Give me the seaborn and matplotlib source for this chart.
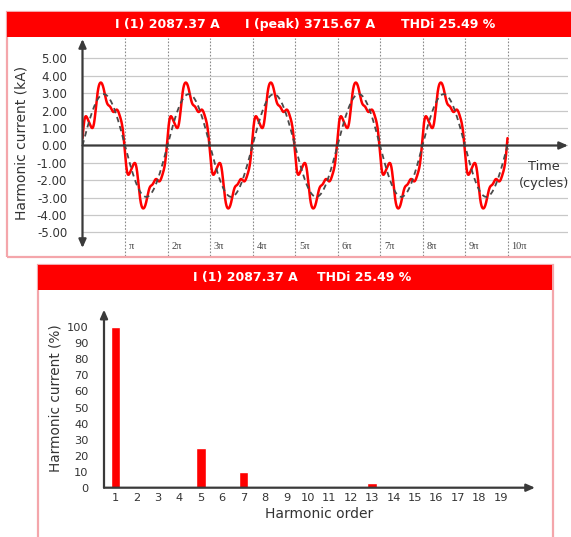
import numpy as np
import pandas as pd
import matplotlib
matplotlib.use("Agg")
import matplotlib.pyplot as plt
import matplotlib.transforms as mtransforms
from matplotlib.patches import Rectangle
from matplotlib.ticker import MultipleLocator, FixedLocator
import seaborn as sns

# ---- measured values -------------------------------------------------------
i1_rms_a = 2087.37          # fundamental RMS current (A)
i_peak_a = 3715.67          # peak current (A)
thdi_pct = 25.49            # total harmonic distortion of current (%)

harmonic_orders = list(range(1, 20))
harmonic_pct = [100, 0, 0.3, 0, 25, 0, 9.8, 0, 0.3, 0,
                1.2, 0, 2.7, 0, 0.2, 0, 0.1, 0, 0.1]
harmonic_phase_deg = [0, 0, 0, 0, 45, 0, -20, 0, 0, 0,
                      0, 0, 0, 0, 0, 0, 0, 0, 0]

n_cycles = 5
kA_ticks = [-5, -4, -3, -2, -1, 0, 1, 2, 3, 4, 5]
pi_multiples = [1, 2, 3, 4, 5, 6, 7, 8, 9, 10]
pi_labels = ["π", "2π", "3π", "4π", "5π", "6π", "7π", "8π", "9π", "10π"]
pct_ticks = [0, 10, 20, 30, 40, 50, 60, 70, 80, 90, 100]

# ---- waveform synthesised from the harmonic spectrum -----------------------
theta = np.linspace(0, 2 * np.pi * n_cycles, 4000)
amp1_ka = i1_rms_a * np.sqrt(2) / 1000.0
wave = np.zeros_like(theta)
for h, pct, ph in zip(harmonic_orders, harmonic_pct, harmonic_phase_deg):
    wave += amp1_ka * pct / 100.0 * np.sin(h * theta + np.deg2rad(ph))
fundamental = amp1_ka * np.sin(theta)

wave_df = pd.DataFrame({"theta": theta, "total": wave, "fund": fundamental})
spec_df = pd.DataFrame({"order": harmonic_orders, "pct": harmonic_pct})

# ---- figure ----------------------------------------------------------------
sns.set_style("white")
plt.rcParams["font.family"] = ["DejaVu Sans"]

W, H = 571, 537
fig = plt.figure(figsize=(W / 100, H / 100), dpi=100)
fig.patch.set_facecolor("white")

RED = "#ff0000"
PINK = "#f4a6ab"
AX_COL = "#3a3a3a"
TXT = "#333333"


def box(l, t, r, b):
    return [l / W, 1 - b / H, (r - l) / W, (b - t) / H]


def fx(x):
    return x / W


def fy(y):
    return 1 - y / H


# panel frames and red header bars
fig.patches.append(Rectangle((fx(7), fy(257)), (580 - 7) / W, (257 - 12) / H,
                             transform=fig.transFigure, fill=False,
                             ec=PINK, lw=1.6, zorder=0))
fig.patches.append(Rectangle((fx(7), fy(37)), (575 - 7) / W, 25 / H,
                             transform=fig.transFigure, fc=RED, ec="none", zorder=1))
fig.patches.append(Rectangle((fx(38), fy(545)), (553 - 38) / W, (545 - 265) / H,
                             transform=fig.transFigure, fill=False,
                             ec=PINK, lw=1.6, zorder=0))
fig.patches.append(Rectangle((fx(38), fy(290)), (552 - 38) / W, 25 / H,
                             transform=fig.transFigure, fc=RED, ec="none", zorder=1))

hdr = dict(color="white", fontsize=9, fontweight="bold", va="center", ha="left")
fig.text(fx(115), fy(24.5), f"I (1) {i1_rms_a:.2f} A", **hdr)
fig.text(fx(245), fy(24.5), f"I (peak) {i_peak_a:.2f} A", **hdr)
fig.text(fx(401), fy(24.5), f"THDi {thdi_pct:.2f} %", **hdr)
fig.text(fx(193), fy(277.5), f"I (1) {i1_rms_a:.2f} A", **hdr)
fig.text(fx(317), fy(277.5), f"THDi {thdi_pct:.2f} %", **hdr)

# ---- top panel: current waveform -------------------------------------------
x0_px, pi_px = 82.5, 42.5
ax = fig.add_axes(box(82.5, 38, 568, 256))
ax.set_xlim(0, (568 - x0_px) / pi_px * np.pi)
zero_px, ka_px = 145.5, 17.4
ax.set_ylim(-(256 - zero_px) / ka_px, (zero_px - 38) / ka_px)
ax.patch.set_alpha(0)

ax.set_xticks([k * np.pi for k in pi_multiples])
ax.set_xticklabels([])
ax.set_yticks(kA_ticks)
ax.set_yticklabels([f"{v:.2f}" for v in kA_ticks], fontsize=8.5, color=TXT)
ax.yaxis.set_minor_locator(MultipleLocator(0.2))
ax.tick_params(axis="x", length=0)
ax.tick_params(axis="y", which="major", length=4, width=1, color=AX_COL,
               direction="out", pad=7)
ax.tick_params(axis="y", which="minor", length=2.5, width=0.7, color="#666666",
               direction="out")
ax.grid(axis="y", color="#c8c8c8", lw=0.9)
ax.grid(axis="x", color="#8a8a8a", lw=0.8, ls=(0, (1.5, 1.5)))
for s in ax.spines.values():
    s.set_visible(False)

sns.lineplot(data=wave_df, x="theta", y="fund", ax=ax, color="#4a4a4a",
             lw=1.3, ls=(0, (3, 2.2)), zorder=4)
sns.lineplot(data=wave_df, x="theta", y="total", ax=ax, color=RED,
             lw=1.8, zorder=3)
ax.set_xlabel("")
ax.set_ylabel("")

# axis arrows
ax.annotate("", xy=(0, (zero_px - 39) / ka_px), xytext=(0, -(248 - zero_px) / ka_px),
            arrowprops=dict(arrowstyle="<|-|>,head_length=0.5,head_width=0.22",
                            color=AX_COL, lw=1.6, shrinkA=0, shrinkB=0),
            annotation_clip=False, zorder=5)
ax.annotate("", xy=(ax.get_xlim()[1], 0), xytext=(0, 0),
            arrowprops=dict(arrowstyle="-|>,head_length=0.5,head_width=0.22",
                            color=AX_COL, lw=1.6, shrinkA=0, shrinkB=0),
            annotation_clip=False, zorder=5)

shift = mtransforms.ScaledTranslation(4 / 100, 0, fig.dpi_scale_trans)
lab_tr = mtransforms.blended_transform_factory(ax.transData, ax.transAxes) + shift
for k, lab in zip(pi_multiples, pi_labels):
    ax.text(k * np.pi, (256 - 247) / (256 - 38), lab, transform=lab_tr,
            fontsize=7.5, family="Liberation Serif", color="#444444",
            ha="left", va="center")

fig.text(fx(22), fy(143), "Harmonic current (kA)", rotation=90,
         fontsize=10, color=TXT, ha="center", va="center")
fig.text(fx(544), fy(175), "Time\n(cycles)", fontsize=9.3, color=TXT,
         ha="center", va="center", linespacing=1.45)

# ---- bottom panel: harmonic spectrum ---------------------------------------
bar0_px, bar_px = 115.3, 21.4
axb = fig.add_axes(box(104, 308, 535, 487.7))
sns.barplot(data=spec_df, x="order", y="pct", ax=axb, color=RED,
            saturation=1, width=0.43, zorder=3)
axb.set_xlim(-(bar0_px - 104) / bar_px, (535 - bar0_px) / bar_px)
axb.set_ylim(0, (487.7 - 308) / 1.604)
axb.patch.set_alpha(0)
for s in axb.spines.values():
    s.set_visible(False)
axb.set_yticks(pct_ticks)
axb.set_yticklabels([str(v) for v in pct_ticks], fontsize=8.2, color=TXT)
axb.yaxis.set_minor_locator(MultipleLocator(2))
axb.tick_params(axis="y", which="major", length=3, width=0.9, color=AX_COL,
                direction="out", pad=8)
axb.tick_params(axis="y", which="minor", length=2, width=0.6, color="#777777",
                direction="out")
axb.tick_params(axis="x", length=0, pad=4, labelsize=8.2, labelcolor=TXT)
axb.set_xlabel("Harmonic order", fontsize=10, color=TXT, labelpad=3)
axb.set_ylabel("")

xl = axb.get_xlim()
axb.annotate("", xy=(xl[0], 111), xytext=(xl[0], 0),
             arrowprops=dict(arrowstyle="-|>,head_length=0.5,head_width=0.22",
                             color=AX_COL, lw=1.6, shrinkA=0, shrinkB=0),
             annotation_clip=False, zorder=5)
axb.annotate("", xy=(xl[1], 0), xytext=(xl[0], 0),
             arrowprops=dict(arrowstyle="-|>,head_length=0.5,head_width=0.22",
                             color=AX_COL, lw=1.6, shrinkA=0, shrinkB=0),
             annotation_clip=False, zorder=5)

fig.text(fx(56), fy(398), "Harmonic current (%)", rotation=90,
         fontsize=9.8, color=TXT, ha="center", va="center")

fig.savefig("out.png", dpi=100, facecolor="white")
